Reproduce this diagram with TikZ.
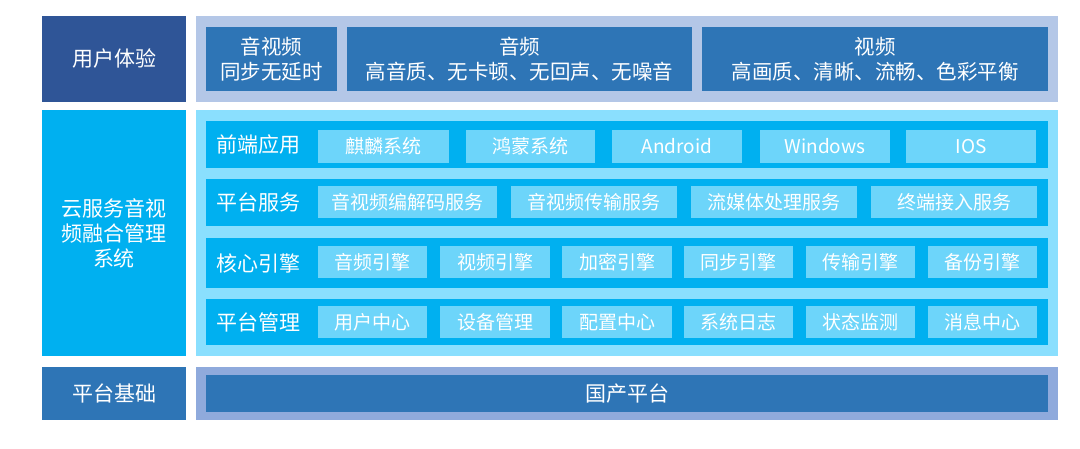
\documentclass[tikz,border=0pt]{standalone}
\usepackage{fontspec}
\setmainfont{Noto Sans CJK SC}
\definecolor{navy}{HTML}{2F5597}
\definecolor{steel}{HTML}{2E75B6}
\definecolor{lavender}{HTML}{B4C7E7}
\definecolor{periwinkle}{HTML}{8FAADC}
\definecolor{cyanfull}{HTML}{00B0F0}
\definecolor{cyanpale}{HTML}{8ADFFE}
\definecolor{cyanitem}{HTML}{6DD5FA}
\begin{document}
\begin{tikzpicture}[x=1pt,y=-1pt,
    block/.style={rectangle,inner sep=0pt,text=white,align=center},
    biglabel/.style={block,font=\fontsize{21}{25}\selectfont},
    toptext/.style={block,fill=steel,font=\fontsize{20.5}{25}\selectfont,minimum height=64pt},
    strip/.style={rectangle,inner sep=0pt,fill=cyanfull,minimum width=842pt},
    item/.style={block,fill=cyanitem,font=\fontsize{19}{23}\selectfont,minimum height=32pt}]
  \useasboundingbox (0,0) rectangle (1080,449);
  % left column
  \node[biglabel,fill=navy,minimum width=144pt,minimum height=86pt] (ux) at (114,59) {用户体验};
  \node[biglabel,fill=cyanfull,minimum width=144pt,minimum height=246pt] (cloud) at (114,233) {云服务音视\\频融合管理\\系统};
  \node[biglabel,fill=steel,minimum width=144pt,minimum height=53pt] (base) at (114,393.5) {平台基础};
  % backgrounds
  \node[rectangle,fill=lavender,minimum width=862pt,minimum height=86pt] (uxbg) at (627,59) {};
  \node[rectangle,fill=cyanpale,minimum width=862pt,minimum height=246pt] (cloudbg) at (627,233) {};
  \node[rectangle,fill=periwinkle,minimum width=862pt,minimum height=53pt] (basebg) at (627,393.5) {};
  % user experience
  \node[toptext,minimum width=131pt] (sync) at (271.5,59) {音视频\\同步无延时};
  \node[toptext,minimum width=345pt] (audio) at (519.5,59) {音频\\高音质、无卡顿、无回声、无噪音};
  \node[toptext,minimum width=346pt] (video) at (875,59) {视频\\高画质、清晰、流畅、色彩平衡};
  % rows
  \node[strip,minimum height=47pt] (r1) at (627,144.5) {};
  \node[strip,minimum height=47pt] (r2) at (627,202.5) {};
  \node[strip,minimum height=50pt] (r3) at (627,263) {};
  \node[strip,minimum height=46pt] (r4) at (627,322) {};
  \node[biglabel] (r1l) at (258,144.5) {前端应用};
  \node[biglabel] (r2l) at (258,202.5) {平台服务};
  \node[biglabel] (r3l) at (258,263) {核心引擎};
  \node[biglabel] (r4l) at (258,322) {平台管理};
  % front end
  \node[item,minimum width=131pt,minimum height=33pt] (os1) at (383.5,146.5) {麒麟系统};
  \node[item,minimum width=129pt,minimum height=33pt] (os2) at (530.5,146.5) {鸿蒙系统};
  \node[item,minimum width=130pt,minimum height=33pt] (os3) at (677,146.5) {Android};
  \node[item,minimum width=130pt,minimum height=33pt] (os4) at (825,146.5) {Windows};
  \node[item,minimum width=130pt,minimum height=33pt] (os5) at (971,146.5) {IOS};
  % services
  \node[item,minimum width=179pt] (sv1) at (407.5,202) {音视频编解码服务};
  \node[item,minimum width=166pt] (sv2) at (594,202) {音视频传输服务};
  \node[item,minimum width=166pt] (sv3) at (774,202) {流媒体处理服务};
  \node[item,minimum width=166pt] (sv4) at (954,202) {终端接入服务};
  % engines
  \node[item,minimum width=109pt] (en1) at (372.5,262) {音频引擎};
  \node[item,minimum width=110pt] (en2) at (495,262) {视频引擎};
  \node[item,minimum width=110pt] (en3) at (617,262) {加密引擎};
  \node[item,minimum width=109pt] (en4) at (738.5,262) {同步引擎};
  \node[item,minimum width=109pt] (en5) at (860.5,262) {传输引擎};
  \node[item,minimum width=109pt] (en6) at (982.5,262) {备份引擎};
  % management
  \node[item,minimum width=109pt] (mg1) at (372.5,322) {用户中心};
  \node[item,minimum width=110pt] (mg2) at (495,322) {设备管理};
  \node[item,minimum width=110pt] (mg3) at (617,322) {配置中心};
  \node[item,minimum width=109pt] (mg4) at (738.5,322) {系统日志};
  \node[item,minimum width=109pt] (mg5) at (860.5,322) {状态监测};
  \node[item,minimum width=109pt] (mg6) at (982.5,322) {消息中心};
  % base
  \node[biglabel,fill=steel,minimum width=842pt,minimum height=37pt] (domestic) at (627,393.5) {国产平台};
\end{tikzpicture}
\end{document}
